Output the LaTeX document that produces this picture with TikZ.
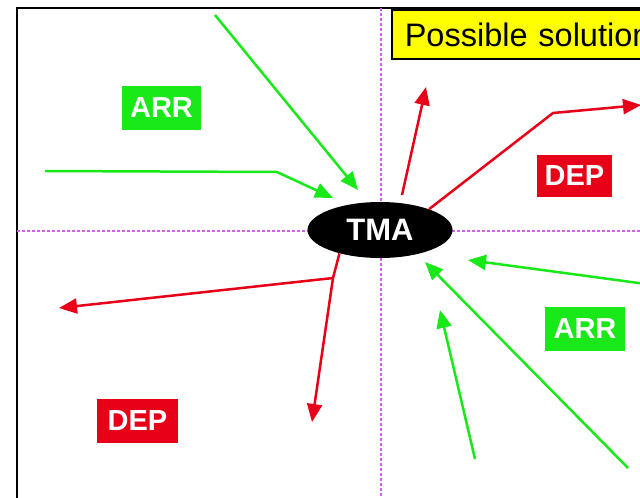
\documentclass[tikz,border=0pt]{standalone}
\usepackage{fontspec}
\setmainfont{Liberation Sans}
\usetikzlibrary{arrows.meta}
\usetikzlibrary{shapes}
\usepackage{xcolor}
\definecolor{arrgreen}{RGB}{25,232,25}
\definecolor{depred}{RGB}{232,0,24}
\definecolor{axisviolet}{RGB}{212,96,238}
\definecolor{solyellow}{RGB}{255,255,0}

\begin{document}
\begin{tikzpicture}[x=1pt,y=-1pt,>={Triangle[length=18pt,width=15pt]}]
      \useasboundingbox (0,0) rectangle (640,498);
      \clip (0,0) rectangle (640,498);
      \fill[white] (0,0) rectangle (640,498);

      \draw[black,line width=2pt] (17,8) rectangle (660,520);
      \draw[axisviolet,dash pattern=on 3pt off 2pt,line width=1.1pt] (381,8)  -- (381,498);
      \draw[axisviolet,dash pattern=on 3pt off 2pt,line width=1.1pt] (17,231) -- (640,231);

      \node[draw,fill=solyellow,line width=1.6pt,anchor=west,text width=280pt,align=left,
            inner xsep=13pt,minimum height=49pt,font=\fontsize{32.5}{37}\selectfont]
            (sol) at (391,34.5) {Possible solution};

      \begin{scope}[text=white,font=\bfseries\fontsize{29}{32}\selectfont,inner sep=0pt,minimum height=44pt]
          \node[fill=arrgreen,minimum width=79pt] (arrA) at (161.5,108) {ARR};
          \node[fill=arrgreen,minimum width=80pt] (arrB) at (585,328.5) {ARR};
          \node[fill=depred,minimum width=75pt,minimum height=42pt] (depA) at (574.5,176) {DEP};
          \node[fill=depred,minimum width=81pt] (depB) at (137.5,421) {DEP};
          \node[ellipse,fill=black,minimum width=145pt,minimum height=56pt,font=\bfseries\fontsize{31}{34}\selectfont]
                (tma) at (380,230) {TMA};
      \end{scope}

      \coordinate (gA0) at (215,15);   \coordinate (gA1) at (358,190);
      \coordinate (gB0) at (45,171);   \coordinate (gBk) at (277,172);  \coordinate (gB1) at (333,198);
      \coordinate (gC0) at (646,284);  \coordinate (gC1) at (468,260);
      \coordinate (gD0) at (628,468);  \coordinate (gD1) at (425,262);
      \coordinate (gE0) at (475,459);  \coordinate (gE1) at (440,310);
      \coordinate (rA0) at (402,195);  \coordinate (rA1) at (426,87);
      \coordinate (rBk) at (553,113);  \coordinate (rB1) at (641,105);
      \coordinate (rCk) at (333,278);  \coordinate (rC1) at (312,422);
      \coordinate (rD1) at (59,308);

      \draw[->,line width=2.5pt,arrgreen]   (gA0)   -- (gA1);
      \draw[->,line width=2.5pt,arrgreen]   (gB0)   -- (gBk) -- (gB1);
      \draw[->,line width=2.5pt,arrgreen]   (gC0)   -- (gC1);
      \draw[->,line width=2.5pt,arrgreen]   (gD0)   -- (gD1);
      \draw[->,line width=2.5pt,arrgreen]   (gE0)   -- (gE1);
      \draw[->,line width=2.5pt,depred]     (rA0)   -- (rA1);
      \draw[->,line width=2.5pt,depred]     (tma.23)  -- (rBk) -- (rB1);
      \draw[->,line width=2.5pt,depred]     (tma.210) -- (rCk) -- (rC1);
      \draw[->,line width=2.5pt,depred]     (rCk)   -- (rD1);
\end{tikzpicture}
\end{document}
